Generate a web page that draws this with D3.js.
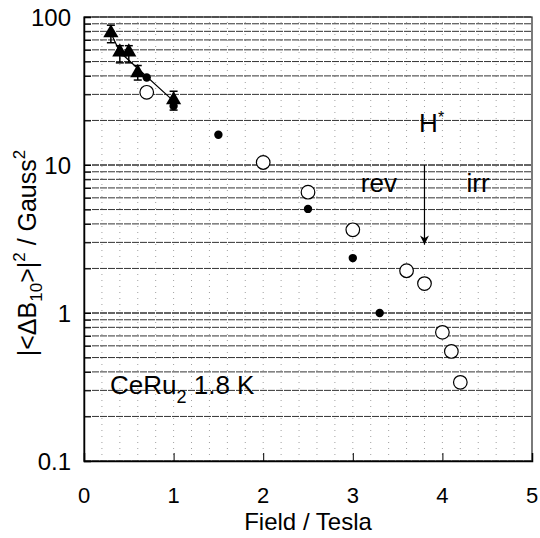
<!DOCTYPE html>
<html>
<head>
<meta charset="utf-8">
<script src="https://cdn.jsdelivr.net/npm/d3@7"></script>
<style>
  body { margin: 0; background: #fff; }
  text { font-family: "Liberation Sans", Arial, Helvetica, sans-serif; fill: #000; }
</style>
</head>
<body>
<div id="chart"></div>
<script>
// triangles with error bars (joined by a guide line)
const triX = [0.3, 0.4, 0.5, 0.6, 1.0];
const triY = [78, 58, 58, 42, 27.5];
const triHi = [88, 64, 64, 47, 31.5];
const triLo = [67, 49, 49, 37.5, 23.5];
const guideX = [0.3, 0.4, 1.0];
const guideY = [78, 58, 27];
// filled dots
const dotX = [0.7, 1.0, 1.5, 2.5, 3.0, 3.3];
const dotY = [39, 25, 16, 5.05, 2.35, 1.0];
// open circles
const ringX = [0.7, 2.0, 2.5, 3.0, 3.6, 3.8, 4.0, 4.1, 4.2];
const ringY = [31, 10.4, 6.55, 3.65, 1.93, 1.58, 0.74, 0.55, 0.34];
// H* arrow
const arrowX = [3.8, 3.8];
const arrowY = [10, 2.9];
// axes
const xTicks = [0, 1, 2, 3, 4, 5];
const yTicks = [0.1, 1, 10, 100];
const yTickLabels = ["0.1", "1", "10", "100"];
const xGrid = d3.range(0.2, 5, 0.2);
const yGrid = [];
[0.1, 1, 10].forEach(function(d) { for (let k = 1; k <= 10; k++) yGrid.push(+(d * k).toPrecision(3)); });

const width = 540, height = 538;
const margin = {top: 17, right: 8, bottom: 77, left: 84};

const svg = d3.select("#chart").append("svg")
    .attr("width", width)
    .attr("height", height);

const x = d3.scaleLinear().domain([0, 5]).range([margin.left, width - margin.right]);
const y = d3.scaleLog().domain([0.1, 100]).range([height - margin.bottom, margin.top]);

// grid
svg.append("g").selectAll("line")
    .data(xGrid).enter().append("line")
    .attr("x1", d => x(d)).attr("x2", d => x(d))
    .attr("y1", y(0.1)).attr("y2", y(100))
    .attr("stroke", "#888").attr("stroke-width", 0.8)
    .attr("stroke-dasharray", "1,5");

svg.append("g").selectAll("line")
    .data(yGrid).enter().append("line")
    .attr("x1", x(0)).attr("x2", x(5))
    .attr("y1", d => y(d)).attr("y2", d => y(d))
    .attr("stroke", "#333").attr("stroke-width", 1)
    .attr("stroke-dasharray", "7,1");

// frame
svg.append("rect")
    .attr("x", x(0)).attr("y", y(100))
    .attr("width", x(5) - x(0)).attr("height", y(0.1) - y(100))
    .attr("fill", "none").attr("stroke", "#222").attr("stroke-width", 1.2);

// axes with inward ticks
svg.append("g")
    .attr("transform", "translate(0," + y(0.1) + ")")
    .call(d3.axisTop(x).tickValues(xTicks).tickSize(8).tickFormat(""))
    .call(g => g.select(".domain").attr("stroke-width", 1.5));

svg.append("g")
    .attr("transform", "translate(" + x(0) + ",0)")
    .call(d3.axisRight(y).tickValues(yGrid).tickSize(7).tickFormat(""))
    .call(g => g.select(".domain").attr("stroke-width", 1.5));

// tick labels
svg.append("g").selectAll("text")
    .data(xTicks).enter().append("text")
    .attr("x", d => x(d)).attr("y", y(0.1) + 42)
    .attr("text-anchor", "middle")
    .attr("font-size", 22)
    .text(d => d);

svg.append("g").selectAll("text")
    .data(yTicks).enter().append("text")
    .attr("x", x(0) - 13).attr("y", d => y(d))
    .attr("dy", "0.36em")
    .attr("text-anchor", "end")
    .attr("font-size", 24)
    .text((d, i) => yTickLabels[i]);

// axis titles
svg.append("text")
    .attr("x", (x(0) + x(5)) / 2).attr("y", 530)
    .attr("text-anchor", "middle")
    .attr("font-size", 24)
    .text("Field / Tesla");

const yl = svg.append("text")
    .attr("transform", "translate(36,253) rotate(-90)")
    .attr("text-anchor", "middle")
    .attr("font-size", 25);
yl.append("tspan").text("|<ΔB");
yl.append("tspan").attr("font-size", 17).attr("dy", 6).text("10");
yl.append("tspan").attr("dy", -6).text(">|");
yl.append("tspan").attr("font-size", 17).attr("dy", -11).text("2");
yl.append("tspan").attr("dy", 11).text(" / Gauss");
yl.append("tspan").attr("font-size", 17).attr("dy", -11).text("2");

// guide line through triangles
const line = d3.line().x(d => x(d[0])).y(d => y(d[1]));
svg.append("path")
    .datum(d3.zip(guideX, guideY))
    .attr("d", line)
    .attr("fill", "none").attr("stroke", "#000").attr("stroke-width", 1.2);

// error bars
const eb = svg.append("g").attr("stroke", "#000").attr("stroke-width", 1.5);
triX.forEach(function(d, i) {
    eb.append("line").attr("x1", x(d)).attr("x2", x(d)).attr("y1", y(triHi[i])).attr("y2", y(triLo[i]));
    eb.append("line").attr("x1", x(d) - 4).attr("x2", x(d) + 4).attr("y1", y(triHi[i])).attr("y2", y(triHi[i]));
    eb.append("line").attr("x1", x(d) - 4).attr("x2", x(d) + 4).attr("y1", y(triLo[i])).attr("y2", y(triLo[i]));
});

// filled dots
svg.append("g").selectAll("circle")
    .data(d3.zip(dotX, dotY)).enter().append("circle")
    .attr("cx", d => x(d[0])).attr("cy", d => y(d[1]))
    .attr("r", 4.2).attr("fill", "#000");

// open circles
svg.append("g").selectAll("circle")
    .data(d3.zip(ringX, ringY)).enter().append("circle")
    .attr("cx", d => x(d[0])).attr("cy", d => y(d[1]))
    .attr("r", 6.8).attr("fill", "#fff").attr("stroke", "#000").attr("stroke-width", 1.2);

// triangles
svg.append("g").selectAll("path")
    .data(d3.zip(triX, triY)).enter().append("path")
    .attr("transform", d => "translate(" + x(d[0]) + "," + y(d[1]) + ")")
    .attr("d", d3.symbol().type(d3.symbolTriangle).size(100))
    .attr("fill", "#000");

// H* arrow
svg.append("defs").append("marker")
    .attr("id", "head").attr("viewBox", "0 0 10 10")
    .attr("refX", 10).attr("refY", 5)
    .attr("markerWidth", 10).attr("markerHeight", 9)
    .attr("markerUnits", "userSpaceOnUse")
    .attr("orient", "auto")
  .append("path").attr("d", "M0,0 L10,5 L0,10 L3,5 Z").attr("fill", "#000");

svg.append("path")
    .datum(d3.zip(arrowX, arrowY))
    .attr("d", line)
    .attr("stroke", "#000").attr("stroke-width", 1.2)
    .attr("marker-end", "url(#head)");

// annotations
const notes = svg.append("g").attr("font-size", 26);
const hs = notes.append("text").attr("x", x(3.74)).attr("y", y(16.7));
hs.append("tspan").text("H");
hs.append("tspan").attr("font-size", 16).attr("dy", -9).text("*");
notes.append("text").attr("x", x(3.09)).attr("y", y(6.6)).text("rev");
notes.append("text").attr("x", x(4.27)).attr("y", y(6.6)).text("irr");
const ce = notes.append("text").attr("x", x(0.29)).attr("y", y(0.284));
ce.append("tspan").text("CeRu");
ce.append("tspan").attr("font-size", 18).attr("dy", 9).text("2");
ce.append("tspan").attr("dy", -9).text(" 1.8 K");
</script>
</body>
</html>
